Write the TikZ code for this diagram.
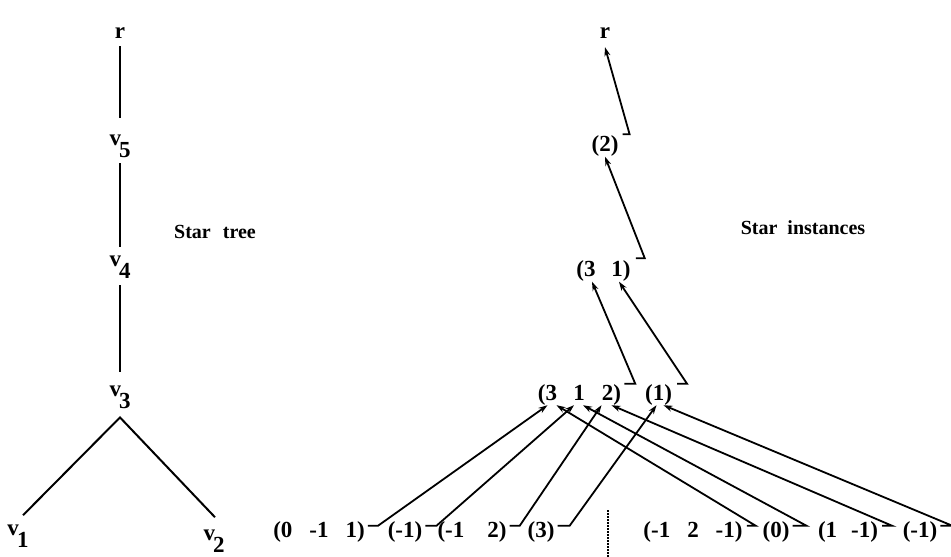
\documentclass[tikz,border=0pt]{standalone}
\usepackage{fontspec}
\setmainfont{Liberation Serif}
\usetikzlibrary{arrows.meta,calc}
\begin{document}
\begin{tikzpicture}[x=1pt,y=-1pt,
  lab/.style={font=\bfseries\fontsize{23}{27}\selectfont, inner sep=0pt, anchor=base},
  caption/.style={font=\bfseries\fontsize{20}{24}\selectfont, inner sep=0pt, anchor=center},
  tok/.style={lab, text height=16pt, text depth=5pt},
  edge/.style={line width=2pt},
  arr/.style={line width=1.8pt, -{Stealth[length=9pt,width=6pt]}}]
\useasboundingbox (0,0) rectangle (951,557);
% ---------- Star tree ----------
\node[lab] (r1) at (120,38) {r};
\node[lab] (v5) at (120,145) {v\kern-2pt\raisebox{-12pt}{5}};
\node[lab] (v4) at (120,266) {v\kern-2pt\raisebox{-12pt}{4}};
\node[lab] (v3) at (120,396) {v\kern-2pt\raisebox{-12pt}{3}};
\node[lab] (v1) at (18,535) {v\kern-2pt\raisebox{-12pt}{1}};
\node[lab] (v2) at (214,540) {v\kern-2pt\raisebox{-12pt}{2}};
\node[caption] (st) at (215,232) {Star\hspace{12pt}tree};
\draw[edge, shorten <=8pt, shorten >=16pt] (r1.south) -- (v5.north);
\draw[edge, shorten <=6pt, shorten >=8pt] (v5.south) -- (v4.north);
\draw[edge, shorten <=7pt, shorten >=13pt] (v4.south) -- (v3.north);
\draw[edge] ([xshift=5pt,yshift=9pt]v1.north) -- ([yshift=-9pt]v3.south) -- ([xshift=1pt,yshift=12pt]v2.north);
% ---------- Star instances ----------
\node[caption] (si) at (803,228) {Star\hspace{10pt}instances};
\node[tok] (rr) at (605,38) {r};
\node[tok] (d) at (605,151.5) {(2)};
\node[tok] (c3) at (586,276.5) {(3};
\node[tok] (c1) at (621,276.5) {1)};
\node[tok] (a3) at (547.5,400) {(3};
\node[tok] (a1) at (579,400) {1};
\node[tok] (a2) at (611.5,400) {2)};
\node[tok] (b1) at (658.5,400) {(1)};
\node[tok] (L1) at (319,537) {(0\hspace{17pt}-1\hspace{17pt}1)};
\node[tok] (L2) at (405,537) {(-1)};
\node[tok] (L3) at (472,537) {(-1\hspace{23pt}2)};
\node[tok] (L4) at (541,537) {(3)};
\node[tok] (R1) at (693,537) {(-1\hspace{17pt}2\hspace{17pt}-1)};
\node[tok] (R2) at (776,537) {(0)};
\node[tok] (R3) at (848,537) {(1\hspace{14pt}-1)};
\node[tok] (R4) at (920,537) {(-1)};
\draw[line width=1.5pt, dash pattern=on 1.5pt off 1.5pt] (608,510) -- (608,557);
% leaves -> v3 instances
\draw[arr] ([xshift=3pt,yshift=-5pt]L1.north east) -- ++(10,0) -- (a3.south);
\draw[arr] ([xshift=3pt,yshift=-5pt]L2.north east) -- ++(11,0) -- ([xshift=-5pt]a1.south);
\draw[arr] ([xshift=3pt,yshift=-5pt]L3.north east) -- ++(10,0) -- ([xshift=-10pt]a2.south);
\draw[arr] ([xshift=3pt,yshift=-5pt]L4.north east) -- ++(12,0) -- ([xshift=-2pt]b1.south);
\draw[arr] ([xshift=4pt,yshift=-5pt]R1.north east) -- ++(9,0) -- ([xshift=9pt]a3.south);
\draw[arr] ([xshift=3pt,yshift=-5pt]R2.north east) -- ++(14,0) -- ([xshift=4pt]a1.south);
\draw[arr] ([xshift=4pt,yshift=-5pt]R3.north east) -- ++(10,0) -- (a2.south);
\draw[arr] ([xshift=3pt,yshift=-5pt]R4.north east) -- ++(12,0) -- ([xshift=5pt]b1.south);
% v3 instances -> v4 instance
\draw[arr] ([xshift=3pt]a2.north east) -- ++(11,0) -- ([xshift=6pt]c3.south);
\draw[arr] ([xshift=5pt]b1.north east) -- ++(10,0) -- ([xshift=-2pt]c1.south);
% v4 -> v5 -> r
\draw[arr] ([xshift=5pt,yshift=2pt]c1.north east) -- ++(9,0) -- (d.south);
\draw[arr] ([xshift=4pt,yshift=1pt]d.north east) -- ++(7,0) -- ([yshift=-4pt]rr.south);
\end{tikzpicture}
\end{document}
